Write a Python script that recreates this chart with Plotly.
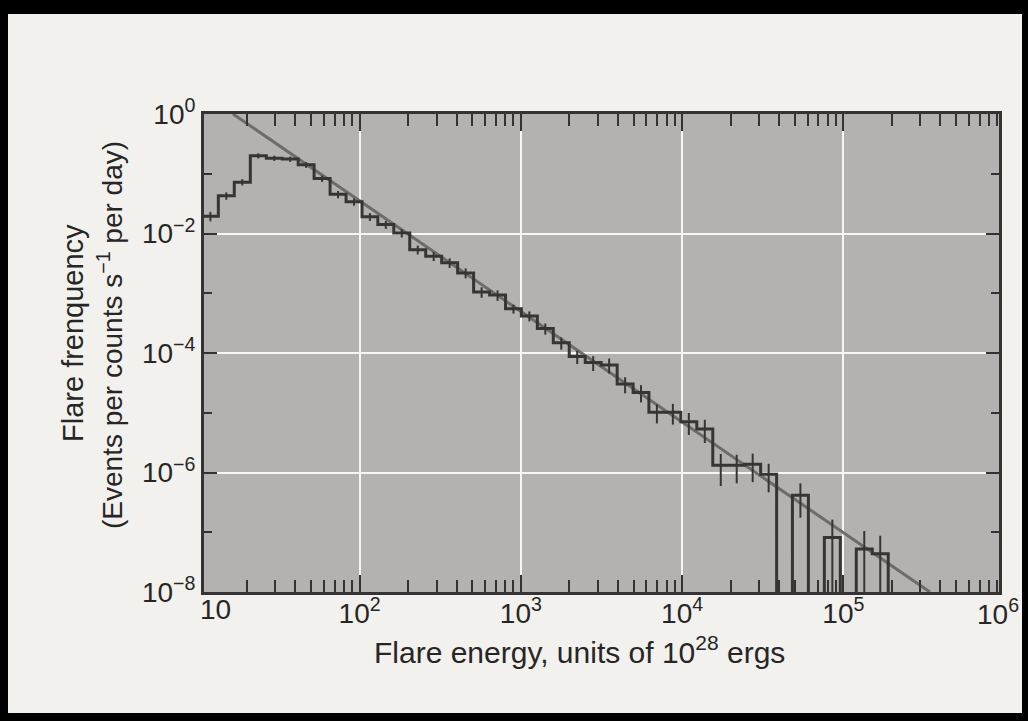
import plotly.graph_objects as go

# ---------------- data ----------------
# histogram bin edges (flare energy, units of 1e28 erg)
bin_edges = [10.6, 13.3, 16.7, 21.0, 26.4, 33.1, 41.6, 52.2, 65.6, 82.4,
             103.5, 129.7, 162.9, 204.6, 257.0, 322.8, 405.5, 509.3, 639.7, 803.5,
             1007, 1265, 1589, 1995, 2506, 3148, 3954, 4966, 6223, 7816,
             9817, 12330, 15490, 19450, 24430, 30690, 38550, 48310, 60670, 76210,
             95720, 120200, 151000, 189700]
# flare frequency per bin (0 = empty bin)
frequency = [0.0195, 0.0427, 0.0724, 0.200, 0.182, 0.176, 0.141, 0.0832, 0.0452, 0.0339,
             0.0191, 0.0141, 0.0102, 5.37e-3, 4.17e-3, 3.24e-3, 2.19e-3, 1.05e-3, 9.33e-4, 5.50e-4,
             4.17e-4, 2.57e-4, 1.48e-4, 8.71e-5, 6.92e-5, 6.31e-5, 3.02e-5, 2.19e-5, 1.02e-5, 1.02e-5,
             7.08e-6, 5.37e-6, 1.32e-6, 1.32e-6, 1.38e-6, 9.33e-7, 0, 4.17e-7, 0, 8.13e-8,
             0, 5.25e-8, 4.37e-8]
# relative (1-sigma) error of each bin
rel_error = [0.18, 0.14, 0.12, 0.10, 0.10, 0.10, 0.11, 0.12, 0.14, 0.14,
             0.15, 0.15, 0.16, 0.17, 0.17, 0.18, 0.19, 0.20, 0.20, 0.17,
             0.19, 0.21, 0.23, 0.25, 0.28, 0.28, 0.30, 0.32, 0.35, 0.38,
             0.40, 0.42, 0.55, 0.50, 0.50, 0.50, 0.0, 0.58, 0.0, 1.0,
             0.0, 1.0, 1.0]
# power-law fit line end points
fit_energy = [16.4, 3.44e5]
fit_frequency = [1.0, 1e-8]

x_tick_vals = [1e2, 1e3, 1e4, 1e5]
x_tick_text = ["10<sup>2</sup>", "10<sup>3</sup>", "10<sup>4</sup>", "10<sup>5</sup>"]
y_tick_vals = [1e0, 1e-2, 1e-4, 1e-6, 1e-8]
y_tick_text = ["10<sup>0</sup>", "10<sup>−2</sup>", "10<sup>−4</sup>", "10<sup>−6</sup>", "10<sup>−8</sup>"]

# ---------------- layout geometry ----------------
W, H = 1028, 721
L, R, T, B = 204, 999, 114, 592
X_RANGE = [1.035, 5.965]
FONT = "Liberation Sans, Arial, Helvetica, sans-serif"
INK = "#262626"
FRAME = "#333333"


def px(x):
    return (x - L) / (R - L)


def py(y):
    return (B - y) / (B - T)


FLOOR = 1e-12
step_x = bin_edges[:-1] + [bin_edges[-1], bin_edges[-1]]
vals = [f if f > 0 else FLOOR for f in frequency]
step_y = vals + [vals[-1], FLOOR]

centers, cy, eplus, eminus = [], [], [], []
for i, f in enumerate(frequency):
    if f <= 0:
        continue
    centers.append((bin_edges[i] * bin_edges[i + 1]) ** 0.5)
    cy.append(f)
    eplus.append(f * rel_error[i])
    eminus.append(min(f * rel_error[i], f * 0.999))

fig = go.Figure()
fig.add_trace(go.Scatter(x=fit_energy, y=fit_frequency, mode="lines",
                         line=dict(color="#6c6c6c", width=3), hoverinfo="skip"))
fig.add_trace(go.Scatter(x=step_x, y=step_y, mode="lines", line_shape="hv",
                         line=dict(color="#353535", width=3), hoverinfo="skip"))
fig.add_trace(go.Scatter(x=centers, y=cy, mode="markers",
                         marker=dict(size=1, color="rgba(0,0,0,0)"),
                         error_y=dict(type="data", array=eplus, arrayminus=eminus,
                                      symmetric=False, width=0, thickness=2, color="#353535"),
                         hoverinfo="skip"))

minor_x = [m * 10 ** d for d in range(1, 6) for m in range(2, 10)]
minor_y = [1e-1, 1e-3, 1e-5, 1e-7]

fig.update_xaxes(type="log", range=X_RANGE, tickmode="array", tickvals=x_tick_vals,
                 ticktext=x_tick_text, ticks="inside", ticklen=17, tickwidth=2,
                 tickcolor=FRAME, showline=True, linewidth=3, linecolor=FRAME,
                 mirror="ticks", showgrid=True, gridcolor="#f6f6f4", gridwidth=2,
                 zeroline=False, tickfont=dict(size=28, color=INK, family=FONT),
                 ticklabelstandoff=-6,
                 minor=dict(tickmode="array", tickvals=minor_x, ticks="inside",
                            ticklen=12, tickwidth=2, tickcolor=FRAME, showgrid=False))
fig.update_yaxes(type="log", range=[-8, 0], tickmode="array", tickvals=y_tick_vals,
                 ticktext=y_tick_text, ticks="inside", ticklen=13, tickwidth=2,
                 tickcolor=FRAME, showline=True, linewidth=3, linecolor=FRAME,
                 mirror="ticks", showgrid=True, gridcolor="#f6f6f4", gridwidth=2,
                 zeroline=False, tickfont=dict(size=28, color=INK, family=FONT),
                 minor=dict(tickmode="array", tickvals=minor_y, ticks="inside",
                            ticklen=8, tickwidth=2, tickcolor=FRAME, showgrid=False))

annotations = [
    dict(text="10", x=px(215), y=py(592), xref="paper", yref="paper",
         xanchor="center", yanchor="top", showarrow=False,
         font=dict(size=28, color=INK, family=FONT)),
    dict(text="10<sup>6</sup>", x=px(998), y=py(592), xref="paper", yref="paper",
         xanchor="center", yanchor="top", showarrow=False,
         font=dict(size=28, color=INK, family=FONT)),
    dict(text="Flare energy, units of 10<sup>28</sup> ergs", x=px(579), y=py(650),
         xref="paper", yref="paper", xanchor="center", yanchor="middle", showarrow=False,
         font=dict(size=30, color=INK, family=FONT)),
    dict(text="Flare frenquency", x=px(73), y=py(333), xref="paper", yref="paper",
         xanchor="center", yanchor="middle", textangle=-90, showarrow=False,
         font=dict(size=29, color=INK, family=FONT)),
    dict(text="(Events per counts s<sup>−1</sup> per day)", x=px(110), y=py(335),
         xref="paper", yref="paper", xanchor="center", yanchor="middle", textangle=-90,
         showarrow=False, font=dict(size=28, color=INK, family=FONT)),
]

shapes = []
for (x0, y0, x1, y1) in [(0, 0, W, 14), (0, 0, 8, H), (W - 6, 0, W, H), (0, H - 8, W, H)]:
    shapes.append(dict(type="rect", xref="paper", yref="paper",
                       x0=px(x0), x1=px(x1), y0=py(y1), y1=py(y0),
                       fillcolor="#000000", line=dict(width=0), layer="above"))

fig.update_layout(width=W, height=H, margin=dict(l=L, r=W - R, t=T, b=H - B),
                  paper_bgcolor="#f2f1ed", plot_bgcolor="#b3b2b0", showlegend=False,
                  font=dict(family=FONT, size=28, color=INK),
                  annotations=annotations, shapes=shapes)

fig.write_html("out.html")
